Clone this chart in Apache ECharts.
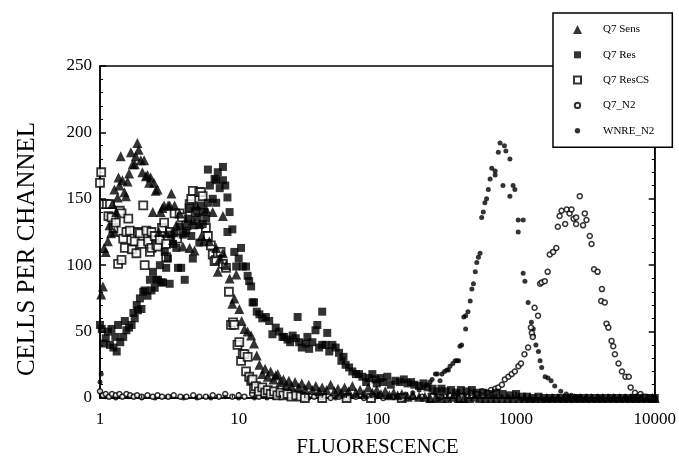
<!DOCTYPE html>
<html><head><meta charset="utf-8">
<script src="https://cdn.jsdelivr.net/npm/echarts@6/dist/echarts.min.js"></script>
<style>html,body{margin:0;padding:0;background:#fff}#c{width:679px;height:463px}</style>
</head><body><div id="c"></div>
<script>
// ---- data: [fluorescence, cells per channel] ----
const q7Sens = [[1.02,78],[1.05,84],[1.07,113],[1.1,110],[1.14,118],[1.17,130],[1.2,124],[1.23,146],[1.27,125],[1.27,157],[1.31,140],[1.34,151],[1.36,166],[1.38,160],[1.41,182],[1.45,164],[1.5,155],[1.54,152],[1.58,163],[1.62,169],[1.67,185],[1.72,176],[1.78,176],[1.81,182],[1.86,192],[1.9,187],[1.97,179],[2.02,170],[2.08,179],[2.14,167],[2.2,168],[2.26,162],[2.32,166],[2.4,140],[2.45,162],[2.52,156],[2.6,157],[2.66,125],[2.74,140],[2.82,143],[2.9,145],[3.0,124],[3.1,145],[3.18,145],[3.27,154],[3.36,119],[3.45,145],[3.55,130],[3.75,139],[3.96,114],[4.08,125],[4.19,132],[4.43,113],[4.67,134],[4.8,111],[4.95,145],[5.2,131],[5.4,122],[5.6,118],[5.83,142],[6.15,118],[6.5,140],[6.88,113],[7.07,95],[7.3,105],[7.7,137],[7.7,109],[8.1,100],[8.6,90],[9.0,71],[9.3,75],[9.6,93],[10.1,67],[10.5,58],[11.0,52],[11.6,50],[12.3,47],[12.9,41],[13.5,32],[14.1,25],[14.8,18],[15.5,22],[16.2,16],[17,20],[17.8,14],[18.5,17],[19.1,18],[20,12],[21,14],[22,10],[23,13],[24,9],[25.5,12],[27,8],[28.5,11],[30,7],[32,10],[34,6],[36,9],[38,5],[40,8],[43,6],[46,10],[49,5],[52,7],[55,4],[58,8],[62,5],[66,9],[70,4],[75,6],[80,3],[86,8],[92,4],[99,6],[106,3],[114,5],[122,2],[131,4],[140,2],[150,3],[165,1],[180,2],[200,1],[220,1],[240,0],[265,1],[290,0],[320,0],[350,1],[385,0],[420,0],[460,0],[500,1],[550,0],[600,0],[660,0],[720,0],[790,0],[870,0],[950,0],[1050,0],[1150,0],[1260,0],[1380,0],[1520,0],[1660,0],[1820,0],[2000,0],[2200,0],[2400,0],[2650,0],[2900,0],[3200,0],[3500,0],[3850,0],[4200,0],[4600,0],[5050,0],[5550,0],[6100,0],[6700,0],[7300,0],[8000,0],[8800,0],[9600,0],[10000,0]];

const q7Res = [[1.0,55],[1.03,52],[1.06,41],[1.1,45],[1.14,50],[1.18,40],[1.21,52],[1.25,38],[1.29,46],[1.32,35],[1.35,55],[1.4,42],[1.47,46],[1.51,58],[1.55,51],[1.62,53],[1.69,55],[1.74,64],[1.78,60],[1.84,70],[1.88,66],[1.94,75],[1.99,67],[2.05,80],[2.1,81],[2.2,77],[2.29,89],[2.35,81],[2.41,95],[2.48,83],[2.55,89],[2.62,89],[2.7,100],[2.77,87],[2.85,87],[2.93,110],[3.0,98],[3.09,105],[3.18,86],[3.27,123],[3.36,116],[3.45,124],[3.55,113],[3.65,98],[3.75,129],[3.85,98],[3.96,123],[4.08,89],[4.19,126],[4.3,135],[4.43,143],[4.55,122],[4.67,105],[4.8,130],[4.95,141],[5.07,136],[5.2,117],[5.35,145],[5.5,131],[5.66,140],[5.83,135],[6.0,172],[6.0,147],[6.2,160],[6.5,150],[6.7,165],[6.88,147],[6.88,164],[7.07,170],[7.3,158],[7.7,174],[7.7,164],[8.0,160],[8.3,151],[8.3,125],[8.6,140],[9.0,127],[9.3,110],[9.6,99],[10.0,105],[10.4,113],[10.7,99],[11.3,99],[11.6,92],[11.9,88],[12.3,84],[12.6,72],[12.9,72],[13.5,65],[14.1,63],[14.8,60],[15.7,61],[16.6,58],[17.5,48],[18.5,53],[19.6,50],[20.7,46],[21.3,46],[22.5,44],[23.5,42],[24.5,47],[25.8,45],[26.6,61],[27.3,42],[28.5,38],[30.4,41],[31.3,46],[32.2,37],[34,42],[35.8,51],[36.9,55],[38,38],[40,65],[40,40],[42.3,40],[43.5,49],[45,35],[47.4,40],[50,38],[52.9,34],[55,28],[57,31],[59,25],[62.5,23],[66,20],[70,18],[73.7,18],[78,16],[83,12],[87,15],[92,18],[97,14],[99,11],[105,15],[110,12],[118,16],[125,10],[135,13],[145,12],[155,14],[165,11],[175,12],[185,10],[200,9],[215,11],[230,8],[250,7],[270,5],[290,7],[310,5],[340,6],[370,4],[400,6],[440,5],[480,6],[520,4],[580,4],[650,3],[720,4],[800,3],[900,2],[1000,3],[1100,1],[1200,1],[1320,0],[1450,1],[1600,0],[1760,0],[1930,0],[2120,0],[2330,0],[2560,0],[2800,0],[3080,0],[3380,0],[3700,0],[4070,0],[4470,0],[4900,0],[5380,0],[5900,0],[6480,0],[7100,0],[7800,0],[8560,0],[9400,0],[10000,0]];

const q7ResCS = [[1.0,162],[1.02,170],[1.07,146],[1.12,146],[1.15,137],[1.18,146],[1.21,136],[1.25,128],[1.3,132],[1.35,101],[1.39,141],[1.43,104],[1.43,139],[1.47,120],[1.51,113],[1.55,125],[1.6,135],[1.64,126],[1.7,112],[1.78,118],[1.83,109],[1.88,125],[1.94,124],[1.99,116],[2.05,145],[2.1,100],[2.16,126],[2.22,118],[2.29,110],[2.35,125],[2.35,113],[2.48,122],[2.55,115],[2.62,114],[2.7,119],[2.8,128],[2.9,132],[3.0,116],[3.0,106],[3.2,125],[3.45,139],[3.6,120],[3.75,139],[3.9,136],[4.2,130],[4.43,146],[4.43,143],[4.55,150],[4.67,156],[4.9,140],[5.2,155],[5.35,155],[5.5,152],[5.8,128],[6.0,122],[6.3,115],[6.5,108],[6.7,103],[6.88,104],[7.07,109],[7.4,110],[7.7,101],[8.1,98],[8.5,80],[8.8,55],[9.1,57],[9.3,55],[9.8,40],[10.1,42],[10.4,28],[10.7,33],[11.0,33],[11.3,20],[11.6,31],[11.9,16],[12.3,13],[12.6,14],[12.9,7],[13.3,9],[14,5],[14.8,8],[15.5,4],[16.2,6],[17,3],[18,5],[19,2],[20,4],[21,2],[22.5,3],[24,1],[26,2],[28,1],[30,0],[40,0],[60,0],[90,0],[150,0],[250,0],[400,0]];

const q7N2 = [[1.0,5],[1.05,2],[1.1,3],[1.16,1],[1.22,3],[1.3,2],[1.38,3],[1.45,1],[1.55,3],[1.65,2],[1.75,1],[1.85,2],[2,1],[2.2,2],[2.4,1],[2.6,2],[2.8,1],[3.1,1],[3.4,2],[3.8,1],[4.2,1],[4.7,2],[5.2,1],[5.8,1],[6.5,2],[7.2,1],[8,3],[9,1],[10,2],[11,1],[12.5,3],[14,1],[16,2],[18,1],[20,2],[23,1],[26,1],[30,2],[35,1],[40,1],[46,0],[53,1],[60,0],[70,1],[80,0],[95,1],[110,0],[130,1],[150,0],[180,1],[210,1],[250,2],[290,1],[330,2],[380,3],[420,2],[470,4],[520,3],[570,5],[620,4],[660,6],[707,7],[745,8],[790,10],[830,14],[880,16],[930,18],[980,20],[1040,24],[1085,26],[1150,33],[1222,38],[1280,53],[1300,49],[1320,46],[1360,68],[1440,62],[1490,86],[1530,87],[1610,88],[1690,95],[1750,108],[1850,110],[1950,113],[2000,129],[2060,137],[2130,141],[2260,131],[2320,142],[2430,139],[2510,142],[2600,135],[2710,136],[2710,131],[2880,152],[3040,130],[3130,139],[3220,134],[3400,122],[3500,116],[3650,97],[3870,95],[4110,73],[4160,82],[4360,72],[4490,56],[4630,53],[4880,43],[5020,39],[5160,33],[5480,26],[5800,20],[6150,16],[6500,16],[6700,8],[7200,4],[7900,3],[8500,1],[9200,0],[10000,0]];

const wnreN2 = [[1.0,12],[1.02,18],[1.1,1],[1.3,0],[1.6,1],[2,0],[2.5,0],[3.2,1],[4,0],[5,0],[6.3,0],[8,1],[10,0],[13,0],[16,0],[20,1],[25,0],[32,0],[40,0],[50,0],[63,1],[80,0],[100,1],[120,1],[140,2],[160,3],[180,4],[200,6],[215,8],[227,10],[240,12],[248,14],[262,18],[270,18],[283,13],[292,18],[305,20],[317,21],[325,21],[334,24],[350,26],[364,28],[375,28],[385,28],[394,39],[405,40],[420,61],[433,62],[433,52],[450,65],[467,73],[480,82],[493,86],[508,95],[521,102],[535,106],[550,109],[565,136],[580,140],[596,147],[613,150],[631,157],[650,165],[668,173],[707,171],[707,168],[745,185],[767,192],[805,160],[824,190],[844,186],[903,180],[903,152],[952,160],[980,157],[1036,134],[1036,125],[1125,134],[1125,94],[1158,88],[1222,72],[1290,57],[1330,52],[1330,47],[1390,40],[1450,35],[1490,28],[1530,23],[1620,16],[1700,15],[1790,13],[1900,9],[2100,5],[2300,3],[2500,2],[2800,1],[3200,0],[4000,0],[5000,0],[6300,0],[8000,0],[10000,0]];

const seriesNames = ['Q7 Sens','Q7 Res','Q7 ResCS','Q7_N2','WNRE_N2'];
const xMinorTicks = [2,3,4,5,6,7,8,9,20,30,40,50,60,70,80,90,200,300,400,500,600,700,800,900,2000,3000,4000,5000,6000,7000,8000,9000];
const yMin = 0, yMax = 250, yStep = 50;
const xMin = 1, xMax = 10000;

const FONT = '"Liberation Serif", "Times New Roman", serif';
const SQUARE_ICON = 'path://M0,0M9,9M1,1h7v7h-7z';
const DOT_ICON = 'path://M0,0M9,9M1.8,4.5a2.7,2.7 0 1,0 5.4,0a2.7,2.7 0 1,0 -5.4,0z';
const chart = echarts.init(document.getElementById('c'), null, {renderer:'canvas'});
const axisLineStyle = {color:'#000', width:1.5};

chart.setOption({
  animation:false,
  backgroundColor:'#fff',
  grid:{left:100, right:22, top:66, bottom:59, show:true, borderColor:'#000', borderWidth:1.5, backgroundColor:'transparent'},
  legend:{
    orient:'vertical', left:553, top:13, padding:[11,18,11,19], itemGap:14.3,
    itemWidth:9, itemHeight:9, backgroundColor:'#fff', borderColor:'#000', borderWidth:1.5,
    textStyle:{fontFamily:FONT, fontSize:11, color:'#000', padding:[0,0,0,16]},
    data:[
      {name:seriesNames[0], icon:'triangle'},
      {name:seriesNames[1], icon:SQUARE_ICON},
      {name:seriesNames[2], icon:SQUARE_ICON},
      {name:seriesNames[3], icon:DOT_ICON},
      {name:seriesNames[4], icon:DOT_ICON}
    ],
    selectedMode:false
  },
  xAxis:{
    type:'log', logBase:10, min:xMin, max:xMax,
    name:'FLUORESCENCE', nameLocation:'middle', nameGap:39,
    nameTextStyle:{fontFamily:FONT, fontSize:21, color:'#000'},
    axisLine:{lineStyle:axisLineStyle},
    axisTick:{inside:true, length:6, lineStyle:{color:'#000', width:1.5}},
    axisLabel:{fontFamily:FONT, fontSize:17, color:'#000', margin:13, formatter:function(v){return String(v);}},
    splitLine:{show:false}
  },
  yAxis:[{
    type:'value', min:yMin, max:yMax, interval:yStep,
    name:'CELLS PER CHANNEL', nameLocation:'middle', nameGap:60, nameRotate:90,
    nameTextStyle:{fontFamily:FONT, fontSize:25, color:'#000', padding:[0,34,0,0]},
    axisLine:{show:true, lineStyle:axisLineStyle},
    axisTick:{show:true, inside:true, length:6, lineStyle:{color:'#000', width:1.5}},
    minorTick:{show:true, splitNumber:5, length:3, lineStyle:{color:'#000', width:1}},
    axisLabel:{fontFamily:FONT, fontSize:17, color:'#000', margin:8},
    splitLine:{show:false}
  },{
    type:'value', position:'right', min:yMin, max:yMax, interval:yStep,
    axisLine:{show:true, lineStyle:axisLineStyle},
    axisTick:{show:true, inside:true, length:6, lineStyle:{color:'#000', width:1.5}},
    minorTick:{show:true, splitNumber:5, length:3, lineStyle:{color:'#000', width:1}},
    axisLabel:{show:false},
    splitLine:{show:false}
  }],
  series:[
    {name:seriesNames[4], type:'scatter', data:wnreN2, symbol:'circle', symbolSize:5, itemStyle:{color:'#000'}},
    {name:seriesNames[3], type:'scatter', data:q7N2, symbol:'circle', symbolSize:5, itemStyle:{color:'#fff', borderColor:'#000', borderWidth:1.5}},
    {name:seriesNames[2], type:'scatter', data:q7ResCS, symbol:'rect', symbolSize:8, itemStyle:{color:'#fff', borderColor:'#000', borderWidth:1.8}},
    {name:seriesNames[1], type:'scatter', data:q7Res, symbol:'rect', symbolSize:8, itemStyle:{color:'#000'}},
    {name:seriesNames[0], type:'scatter', data:q7Sens, symbol:'triangle', symbolSize:10, itemStyle:{color:'#000'}},
    {type:'custom', silent:true, clip:false, z:3, data:xMinorTicks.map(v=>[v,0]),
      renderItem:function(params, api){
        const p = api.coord([api.value(0), 0]);
        return {type:'line', shape:{x1:p[0], y1:p[1], x2:p[0], y2:p[1]-3}, style:{stroke:'#000', lineWidth:1}};
      }}
  ]
});
</script></body></html>
